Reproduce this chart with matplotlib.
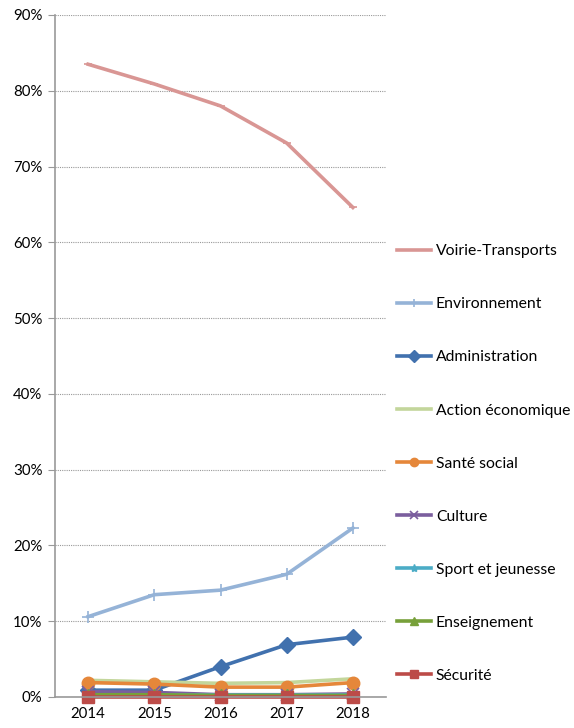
import numpy as np
import matplotlib
matplotlib.use("Agg")
import matplotlib.pyplot as plt
from matplotlib.ticker import FuncFormatter

plt.rcParams['font.family'] = ['Lato', 'DejaVu Sans']

# données (parts en %)
annees = ["2014", "2015", "2016", "2017", "2018"]
voirie = [83.5, 80.9, 78.0, 73.1, 64.6]
environnement = [10.6, 13.5, 14.1, 16.2, 22.3]
administration = [0.9, 0.9, 4.0, 6.9, 7.9]
action_eco = [2.2, 2.0, 1.8, 1.9, 2.4]
sante = [1.9, 1.7, 1.3, 1.3, 1.9]
culture = [0.7, 0.6, 0.3, 0.3, 0.4]
sport = [0.2, 0.2, 0.2, 0.2, 0.2]
enseignement = [0.3, 0.3, 0.2, 0.2, 0.2]
securite = [0.0, 0.0, 0.0, 0.0, 0.0]

series = [
    ("Voirie-Transports", voirie, "#D99694", "_"),
    ("Environnement", environnement, "#95B3D7", "+"),
    ("Administration", administration, "#4171AE", "D"),
    ("Action économique", action_eco, "#C3D69B", None),
    ("Santé social", sante, "#E5873A", "o"),
    ("Culture", culture, "#7B5E9E", "x"),
    ("Sport et jeunesse", sport, "#4BACC6", "*"),
    ("Enseignement", enseignement, "#77A03A", "^"),
    ("Sécurité", securite, "#BC4B48", "s"),
]

fig = plt.figure(figsize=(5.74, 7.28), dpi=100)
ax = fig.add_axes([0.0958, 0.0426, 0.5767, 0.9368])
x = np.arange(len(annees))
for nom, vals, col, mk in series:
    ms = 9
    if mk == "_":
        ms = 6
    if mk == "D":
        ms = 8
    ax.plot(x, vals, color=col, lw=2.6, marker=mk, markersize=ms, clip_on=False,
            markeredgewidth=1.2 if mk in ("+", "x", "_") else 1, label=nom)

ax.set_xlim(-0.5, 4.5)
ax.set_ylim(0, 90)
ax.set_yticks(np.arange(0, 91, 10))
ax.yaxis.set_major_formatter(FuncFormatter(lambda v, p: "%d%%" % v))
ax.set_xticks(x)
ax.set_xticklabels(annees)
ax.yaxis.grid(True, linestyle=(0, (1, 1)), color="#999999", lw=0.8)
ax.set_axisbelow(True)
for s in ["top", "right"]:
    ax.spines[s].set_visible(False)
ax.spines["left"].set_color("#999999")
ax.spines["bottom"].set_color("#999999")
ax.spines["left"].set_linewidth(1.2)
ax.spines["bottom"].set_linewidth(1.2)
ax.tick_params(axis="y", length=5, color="#999999", labelsize=10.8, pad=4)
ax.tick_params(axis="x", length=0, labelsize=10.8, pad=7)

leg = fig.legend(loc="upper left", bbox_to_anchor=(0.68, 0.673), frameon=False,
                 fontsize=11.3, handlelength=2.2, labelspacing=2.49, handletextpad=0.3,
                 borderaxespad=0)
for ln in leg.get_lines():
    ln.set_markersize(6)

plt.savefig("out.png", dpi=100)
